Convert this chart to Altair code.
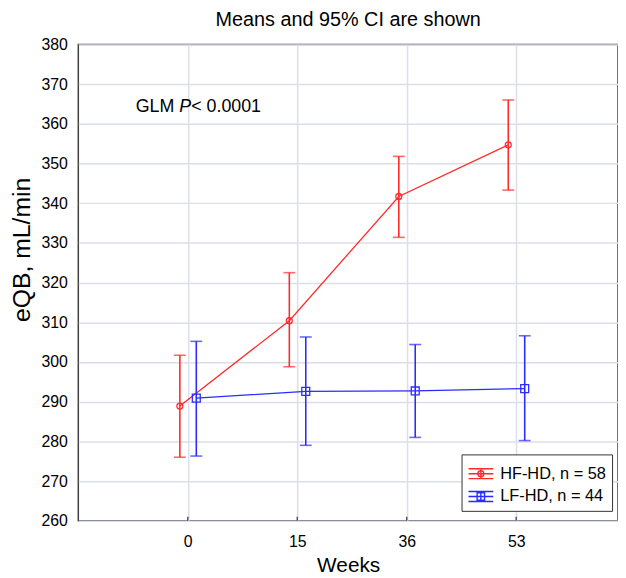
import altair as alt
import pandas as pd

# ---- data ----
WEEKS = ["0", "15", "36", "53"]
SERIES = ["HF-HD, n = 58", "LF-HD, n = 44"]
HF_MEAN = [288.9, 310.4, 341.7, 354.7]
HF_LO = [276.0, 298.8, 331.4, 343.3]
HF_HI = [301.7, 322.5, 351.8, 366.0]
LF_MEAN = [290.9, 292.6, 292.7, 293.3]
LF_LO = [276.3, 279.0, 281.0, 280.2]
LF_HI = [305.2, 306.3, 304.4, 306.6]
TITLE = "Means and 95% CI are shown"
ANNOT = ["GLM", "P", "< 0.0001"]

COLORS = ["#ff2b2b", "#2b2bff"]
FONT = "Liberation Sans"

rows = []
for s, means, los, his in [(SERIES[0], HF_MEAN, HF_LO, HF_HI),
                           (SERIES[1], LF_MEAN, LF_LO, LF_HI)]:
    for i, w in enumerate(WEEKS):
        rows.append({"series": s, "week": w, "pos": i,
                     "mean": means[i], "lo": los[i], "hi": his[i]})
df = pd.DataFrame(rows)
ticks_df = pd.DataFrame({"pos": list(range(len(WEEKS)))})

W, H = 545, 481
GRID = "#dcdeea"

xscale = alt.Scale(domain=[-1, 3.93], nice=False, zero=False)
yscale = alt.Scale(domain=[260, 380], nice=False, zero=False)
label_expr = "[" + ",".join(f"'{w}'" for w in WEEKS) + "][datum.value]"

xaxis = alt.Axis(values=list(range(len(WEEKS))), labelExpr=label_expr,
                 title="Weeks", grid=True, gridColor=GRID, gridWidth=1.5,
                 domain=False, ticks=False, labelFont=FONT, labelFontSize=16,
                 labelColor="black", labelPadding=13, titleFont=FONT,
                 titleFontSize=21, titleFontWeight="normal", titleColor="black",
                 titlePadding=5)
yaxis = alt.Axis(values=list(range(260, 381, 10)), title="eQB, mL/min",
                 grid=True, gridColor=GRID, gridWidth=1.5, domain=False,
                 ticks=False, labelFont=FONT, labelFontSize=16,
                 labelColor="black", labelPadding=11, titleFont=FONT,
                 titleFontSize=25, titleFontWeight="normal", titleColor="black",
                 titleX=-57, titleY=207, titleAlign="center",
                 titleBaseline="middle", titleAngle=270)


def X(field):
    return alt.X(field, type="quantitative", scale=xscale, axis=xaxis)


def Y(field):
    return alt.Y(field, type="quantitative", scale=yscale, axis=yaxis)


PATH_HF = ("M-1,-0.4H1M-1,0H1M-1,0.4H1M0,-0.4V0.4"
           "M0.24,0A0.24,0.24,0,1,1,-0.24,0A0.24,0.24,0,1,1,0.24,0")
PATH_LF = ("M-1,-0.4H1M-1,0H1M-1,0.4H1M0,-0.4V0.4"
           "M-0.3,-0.3H0.3V0.3H-0.3Z")

base = alt.Chart(df)
layers = []
specs = [(SERIES[0], COLORS[0], -8, "circle", 36),
         (SERIES[1], COLORS[1], 8.6, "square", 64)]
for s, c, off, shp, sz in specs:
    sub = base.transform_filter(alt.datum.series == s)
    layers.append(sub.mark_line(color=c, strokeWidth=1.3, xOffset=off)
                  .encode(x=X("pos"), y=Y("mean")))
    layers.append(sub.mark_rule(color=c, strokeWidth=1.6, xOffset=off)
                  .encode(x=X("pos"), y=Y("lo"), y2="hi:Q"))
    for f in ["lo", "hi"]:
        layers.append(sub.mark_tick(color=c, orient="horizontal", size=12,
                                    thickness=1.6, xOffset=off)
                      .encode(x=X("pos"), y=Y(f)))
    layers.append(sub.mark_point(shape=shp, filled=False, color=c, size=sz,
                                 strokeWidth=1.3, opacity=1, xOffset=off)
                  .encode(x=X("pos"), y=Y("mean")))

# inward ticks on the x axis
layers.append(alt.Chart(ticks_df).mark_rule(color="#404040", strokeWidth=1.3)
              .encode(x=X("pos"), y=alt.value(H), y2=alt.value(H - 4)))

# legend (generated from explicit scale domains, no marks drawn)
leg = alt.Legend(title=None, orient="none", legendX=387, legendY=414,
                 labelFont=FONT, labelFontSize=16.5, labelColor="black",
                 symbolSize=625, symbolStrokeWidth=1.4, symbolOpacity=1,
                 strokeColor="#333333", fillColor="white", padding=6,
                 rowPadding=1, labelOffset=6, symbolFillColor="transparent")
layers.append(base.transform_filter("datum.mean < 0")
              .mark_point(filled=False)
              .encode(x=X("pos"), y=Y("mean"),
                      color=alt.Color("series:N", scale=alt.Scale(domain=SERIES, range=COLORS), legend=leg),
                      shape=alt.Shape("series:N", scale=alt.Scale(domain=SERIES, range=[PATH_HF, PATH_LF]), legend=leg)))

# annotation
one = pd.DataFrame({"k": [0]})
ax0 = 58
ay = 68
layers.append(alt.Chart(one).mark_text(text=ANNOT[0], font=FONT, fontSize=18, align="left",
                                       baseline="alphabetic", color="black")
              .encode(x=alt.value(ax0), y=alt.value(ay)))
layers.append(alt.Chart(one).mark_text(text=ANNOT[1], font=FONT, fontSize=18, fontStyle="italic",
                                       align="left", baseline="alphabetic", color="black")
              .encode(x=alt.value(ax0 + 44), y=alt.value(ay)))
layers.append(alt.Chart(one).mark_text(text=ANNOT[2], font=FONT, fontSize=18, align="left",
                                       baseline="alphabetic", color="black")
              .encode(x=alt.value(ax0 + 56), y=alt.value(ay)))

chart = alt.layer(*layers).properties(
    width=W, height=H,
    background="white",
    title=alt.TitleParams(TITLE, font=FONT, fontSize=20, fontWeight="normal",
                          color="black", anchor="middle", offset=7),
    autosize=alt.AutoSizeParams(type="none"),
    padding={"left": 71, "top": 34, "right": 0, "bottom": 54},
).configure_view(stroke="#404040", strokeWidth=1.5)

chart.save("out.html", embed_options={"renderer": "svg", "actions": False})
